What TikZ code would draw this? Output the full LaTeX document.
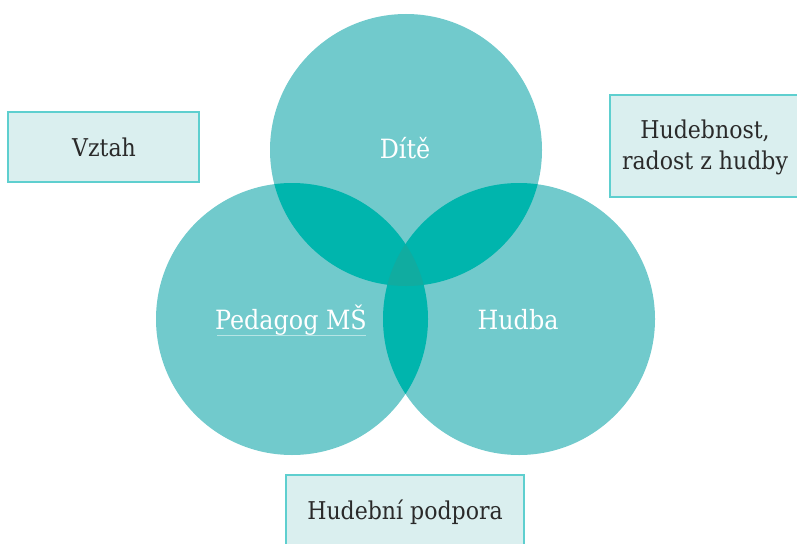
\documentclass[tikz,border=0pt]{standalone}
\usepackage{fontspec}
\setmainfont{DejaVu Serif Condensed}
\definecolor{circ}{HTML}{71CACC}
\definecolor{ovl}{HTML}{00B5AD}
\definecolor{tri}{HTML}{10ACA0}
\definecolor{boxfill}{HTML}{DAEFEF}
\definecolor{boxline}{HTML}{5ECFCF}
\definecolor{txt}{HTML}{2A2A2A}
\definecolor{uline}{HTML}{B5E4E4}
\begin{document}
\begin{tikzpicture}[x=1pt,y=-1pt,
  lbl/.style={font=\fontsize{26.5}{30}\selectfont, text=white},
  boxlbl/.style={font=\fontsize{24.5}{31}\selectfont, text=txt, align=center},
  infobox/.style={fill=boxfill, draw=boxline, line width=1.2pt}]
\useasboundingbox (0,0) rectangle (797,543);
\clip (0,0) rectangle (797,543);
\coordinate (cT) at (406,150);
\coordinate (cL) at (292,319);
\coordinate (cR) at (519,319);
% circles
\fill[circ] (cT) circle[radius=136];
\fill[circ] (cL) circle[radius=136];
\fill[circ] (cR) circle[radius=136];
% pairwise overlaps
\begin{scope}\clip (cT) circle[radius=136]; \fill[ovl] (cL) circle[radius=136]; \fill[ovl] (cR) circle[radius=136];\end{scope}
\begin{scope}\clip (cL) circle[radius=136]; \fill[ovl] (cR) circle[radius=136];\end{scope}
\begin{scope}\clip (cT) circle[radius=136]; \clip (cL) circle[radius=136]; \fill[tri] (cR) circle[radius=136];\end{scope}
% labels
\node[lbl] (dite) at (405,148) {Dítě};
\node[lbl] (hudba) at (518,320) {Hudba};
\node[lbl] (ped) at (291,320) {Pedagog MŠ};
\draw[uline, line width=0.8pt] (217,335) -- (366,335);
% boxes
\draw[infobox] (8,112) rectangle (199,182);
\node[boxlbl] (vztah) at (104,147) {Vztah};
\draw[infobox] (610,95) rectangle (805,197);
\node[boxlbl] (hudebnost) at (705,147) {Hudebnost,\\radost z hudby};
\draw[infobox] (286,475) rectangle (524,550);
\node[boxlbl] (podpora) at (405,512) {Hudební podpora};
\end{tikzpicture}
\end{document}
